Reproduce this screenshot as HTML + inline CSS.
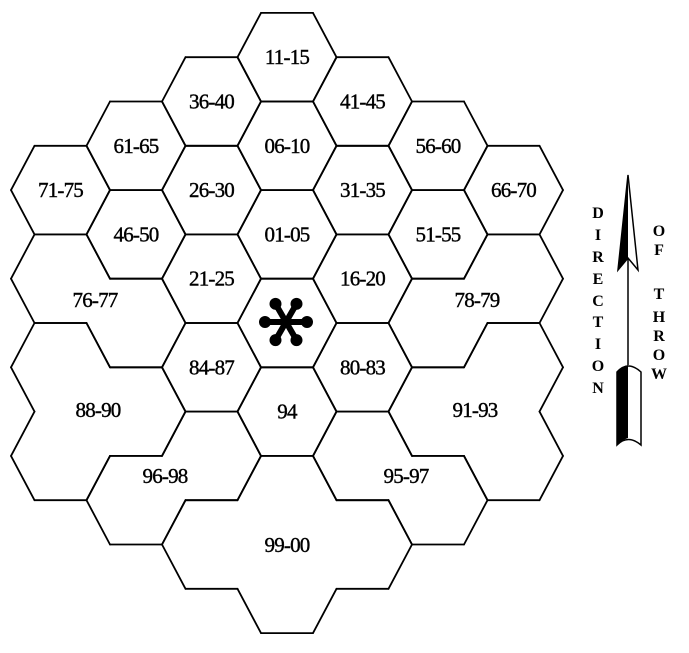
<!DOCTYPE html>
<html><head><meta charset="utf-8"><style>
html,body{margin:0;padding:0;background:#fff;}
svg{display:block;}
text{font-family:"Liberation Serif",serif;fill:#000;}
</style></head><body>
<svg id="chart" width="689" height="653" viewBox="0 0 689 653">
<g id="edges"></g>
<g id="labels"></g>
<g id="star"></g>
<g>
  <polygon points="628,175 618,270 628,258 638,270" fill="#fff" stroke="#000" stroke-width="1.5"/>
  <polygon points="628,175 618,270 628,258" fill="#000"/>
  <line x1="628" y1="258" x2="628" y2="365" stroke="#000" stroke-width="1.5"/>
  <path d="M617,372 Q628,360 641,372 L641,445 Q628,434 617,445 Z" fill="#fff" stroke="#000" stroke-width="1.5"/>
  <path d="M617,372 Q622,366 628,365 L628,438 Q622,440 617,445 Z" fill="#000"/>
</g>
<g font-size="16" font-weight="bold" text-anchor="middle">
  <text x="598" y="218">D</text><text x="598" y="240">I</text><text x="598" y="262">R</text>
  <text x="598" y="284">E</text><text x="598" y="306">C</text><text x="598" y="327">T</text>
  <text x="598" y="349">I</text><text x="598" y="371">O</text><text x="598" y="393">N</text>
</g>
<g font-size="16" font-weight="bold" text-anchor="middle">
  <text x="659" y="236">O</text><text x="659" y="255">F</text>
  <text x="659" y="299">T</text><text x="659" y="322">H</text><text x="659" y="341">R</text>
  <text x="659" y="360">O</text><text x="659" y="379">W</text>
</g>
</svg>
<script>
// cells: [column, half-row offset]
const regionNames = ["11-15","06-10","01-05","*","94","36-40","26-30","21-25","84-87","41-45","31-35","16-20","80-83","61-65","46-50","56-60","51-55","71-75","66-70","76-77","88-90","96-98","99-00","78-79","91-93","95-97"];
const regionCells = [
 [[0,-6]],[[0,-4]],[[0,-2]],[[0,0]],[[0,2]],
 [[-1,-5]],[[-1,-3]],[[-1,-1]],[[-1,1]],
 [[1,-5]],[[1,-3]],[[1,-1]],[[1,1]],
 [[-2,-4]],[[-2,-2]],[[2,-4]],[[2,-2]],
 [[-3,-3]],[[3,-3]],
 [[-3,-1],[-2,0]],[[-3,1],[-3,3],[-2,2]],[[-2,4],[-1,3]],[[0,4],[-1,5],[1,5],[0,6]],
 [[3,-1],[2,0]],[[3,1],[3,3],[2,2]],[[2,4],[1,3]]
];
const labelPos = [null,null,null,null,null,null,null,null,null,null,null,null,null,null,null,null,null,null,null,[95,300],[98,410],[165,476],[287,545],[477,300],[475,410],[406,476]];
const CX=287, CY=323, A=49.5, B=26, H=44.3, DX=75.5;
const ns="http://www.w3.org/2000/svg";
function px(c){return CX+DX*c;}
function py(r){return CY+H*r;}
const owner={};
regionCells.forEach((cells,i)=>cells.forEach(([c,r])=>owner[c+","+r]=i));
const edgesG=document.getElementById('edges');
const nb=[[1,-1],[0,-2],[-1,-1],[-1,1],[0,2],[1,1]];
regionCells.forEach((cells,i)=>{
  cells.forEach(([c,r])=>{
    const x=px(c), y=py(r);
    const v=[[x+A,y],[x+B,y-H],[x-B,y-H],[x-A,y],[x-B,y+H],[x+B,y+H]];
    for(let k=0;k<6;k++){
      const n=(c+nb[k][0])+","+(r+nb[k][1]);
      if(owner[n]===i) continue;
      const l=document.createElementNS(ns,'line');
      l.setAttribute('x1',v[k][0]);l.setAttribute('y1',v[k][1]);
      l.setAttribute('x2',v[(k+1)%6][0]);l.setAttribute('y2',v[(k+1)%6][1]);
      l.setAttribute('stroke','#000');l.setAttribute('stroke-width','1.8');l.setAttribute('stroke-linecap','round');
      
      
      edgesG.appendChild(l);
    }
  });
});
const labG=document.getElementById('labels');
regionNames.forEach((nm,i)=>{
  if(nm==="*") return;
  let x,y;
  if(labelPos[i]){x=labelPos[i][0];y=labelPos[i][1];}
  else {x=px(regionCells[i][0][0]);y=py(regionCells[i][0][1]);}
  const t=document.createElementNS(ns,'text');
  t.setAttribute('x',x);t.setAttribute('y',y+7);
  t.setAttribute('text-anchor','middle');t.setAttribute('font-size','21');
  t.setAttribute('letter-spacing','-0.8');
  t.setAttribute('stroke','#000');t.setAttribute('stroke-width','0.4');
  t.textContent=nm;
  
  
  labG.appendChild(t);
});
const st=document.getElementById('star');
[0,60,120,180,240,300].forEach(a=>{
  const r=a*Math.PI/180, ex=286+21*Math.cos(r), ey=322+21*Math.sin(r);
  const l=document.createElementNS(ns,'line');
  l.setAttribute('x1',286);l.setAttribute('y1',322);l.setAttribute('x2',ex);l.setAttribute('y2',ey);
  l.setAttribute('stroke','#000');l.setAttribute('stroke-width','6');
  
  
  st.appendChild(l);
  const c=document.createElementNS(ns,'circle');
  c.setAttribute('cx',ex);c.setAttribute('cy',ey);c.setAttribute('r','6');c.setAttribute('fill','#000');
  
  
  st.appendChild(c);
});
const cc=document.createElementNS(ns,'circle');
cc.setAttribute('cx',286);cc.setAttribute('cy',322);cc.setAttribute('r','6');cc.setAttribute('fill','#000');


st.appendChild(cc);
</script>
</body></html>
